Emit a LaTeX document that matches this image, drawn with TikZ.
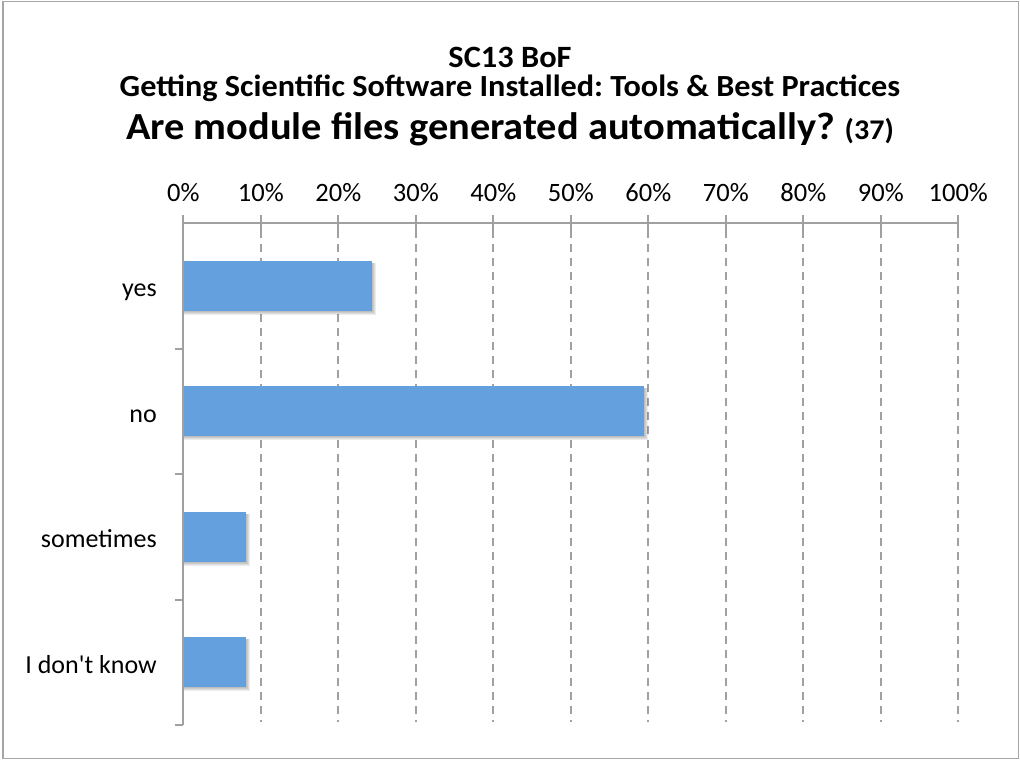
\documentclass[tikz,border=0pt]{standalone}
\usepackage{graphicx}
\usepackage{fontspec}
\setmainfont{Carlito}
\frenchspacing
\definecolor{barblue}{RGB}{99,160,221}
\definecolor{axisgray}{RGB}{160,160,160}
\definecolor{framegray}{RGB}{165,165,165}
\tikzset{
  frame/.style={draw=framegray,line width=1.5pt},
  axisline/.style={draw=axisgray,line width=2pt},
  gridline/.style={draw=axisgray,line width=2pt,dash pattern=on 7.5pt off 6.5pt},
  barfill/.style={fill=barblue},
  barshadow/.style={fill=black,opacity=0.07},
  titletext/.style={anchor=base,inner sep=0pt},
  ticklabel/.style={font=\fontsize{26.5}{31}\selectfont,anchor=base,inner sep=0pt},
  catlabel/.style={font=\fontsize{26}{31}\selectfont,anchor=base east,inner sep=0pt},
}
\begin{document}
\begin{tikzpicture}[x=1pt,y=-1pt]
\useasboundingbox (0,0) rectangle (1020,760);
\draw[frame] (3,1.5) rectangle (1018.5,758.5);
% titles
\node[titletext,font=\bfseries\fontsize{31}{36}\selectfont] (t1) at (510,67.5) {\scalebox{1.045}[1]{SC13 BoF}};
\node[titletext,font=\bfseries\fontsize{30.7}{36}\selectfont] (t2) at (510,96) {\scalebox{1.05}[1]{Getting Scientific Software Installed: Tools \& Best Practices}};
\node[titletext,font=\bfseries\fontsize{38.3}{44}\selectfont] (t3) at (510,139.5) {\scalebox{1.055}[1]{Are module files generated automatically? {\fontsize{28.5}{33}\selectfont(37)}}};
% gridlines
\foreach \i in {1,...,10} {
  \pgfmathsetmacro{\xx}{183.3+77.5*\i}
  \draw[gridline] (\xx,230) -- (\xx,722);
}
% bars with soft shadows
\foreach \c/\n in {0/9,1/22,2/3,3/3} {
  \pgfmathsetmacro{\yc}{223+125.5*\c+62.75}
  \pgfmathsetmacro{\xe}{183.3+20.9459*\n}
  \fill[barshadow] (184.3,\yc-23) rectangle (\xe+4,\yc+29);
  \fill[barshadow] (184.3,\yc-23) rectangle (\xe+3,\yc+28);
  \fill[barshadow] (184.3,\yc-23) rectangle (\xe+2,\yc+27);
  \fill[barshadow] (184.3,\yc-23) rectangle (\xe+1,\yc+26);
  \fill[barfill] (183.3,\yc-25) rectangle (\xe,\yc+25);
}
% axes
\draw[axisline] (183.3,222.7) -- (958.3,222.7);
\draw[axisline] (183.3,215) -- (183.3,725);
\foreach \i in {1,...,10} {
  \pgfmathsetmacro{\xx}{183.3+77.5*\i}
  \draw[axisline] (\xx,215) -- (\xx,230);
}
\foreach \c in {1,...,4} {
  \pgfmathsetmacro{\yy}{223+125.5*\c}
  \draw[axisline] (175,\yy) -- (183.3,\yy);
}
% tick labels
\foreach \i in {0,...,10} {
  \pgfmathsetmacro{\xx}{183.3+77.5*\i}
  \pgfmathtruncatemacro{\pc}{10*\i}
  \node[ticklabel] (p\i) at (\xx,201.5) {\pc\%};
}
% category labels
\node[catlabel] (c1) at (157,296.5) {yes};
\node[catlabel] (c2) at (157,422) {no};
\node[catlabel] (c3) at (157,547.5) {sometimes};
\node[catlabel] (c4) at (157,673) {I don\textquotesingle t know};
\end{tikzpicture}
\end{document}
